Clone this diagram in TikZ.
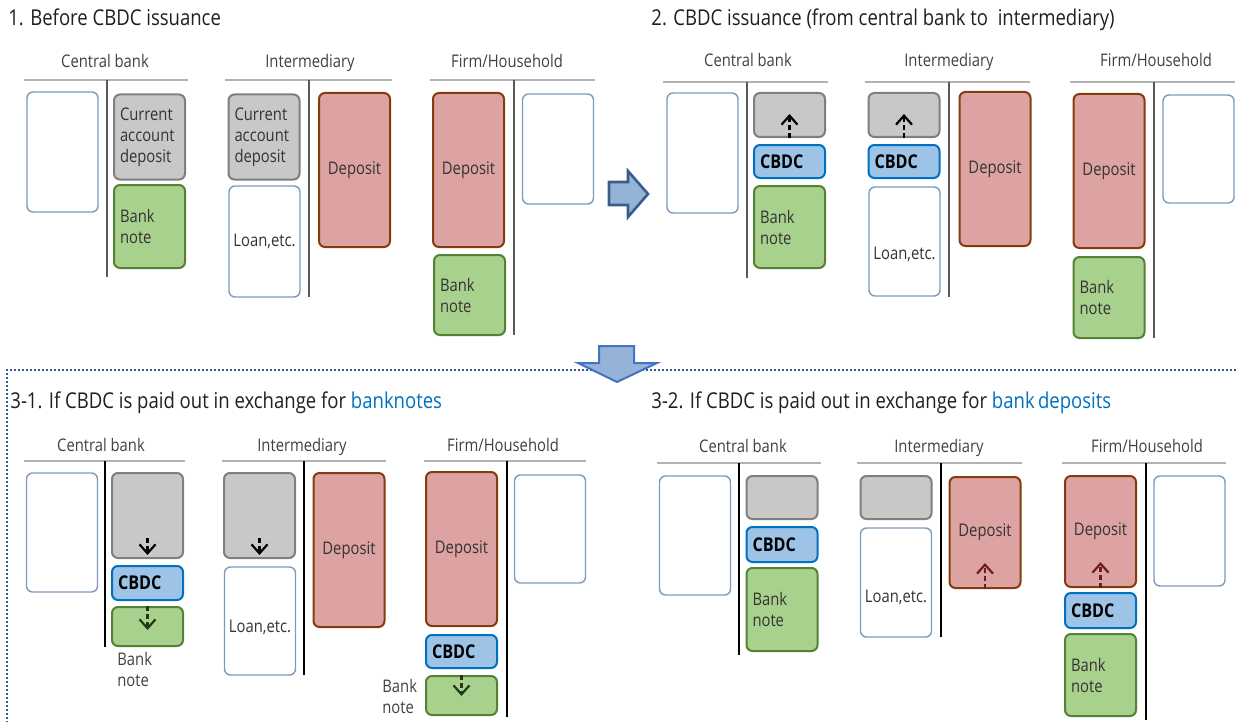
\documentclass[tikz,border=0pt]{standalone}
\usepackage{fontspec}
\setmainfont[FakeStretch=0.85]{Open Sans}
\usetikzlibrary{arrows.meta}
\definecolor{cagray}{RGB}{200,200,200}
\definecolor{cagrayline}{RGB}{127,127,127}
\definecolor{notegreen}{RGB}{169,209,142}
\definecolor{notegreenline}{RGB}{84,130,53}
\definecolor{deppink}{RGB}{221,162,162}
\definecolor{depbrown}{RGB}{132,60,12}
\definecolor{cbdcblue}{RGB}{157,195,230}
\definecolor{cbdcline}{RGB}{0,112,192}
\definecolor{emptyline}{RGB}{124,154,190}
\definecolor{arrowfill}{RGB}{149,179,215}
\definecolor{arrowline}{RGB}{56,93,138}
\definecolor{downline}{RGB}{68,114,196}
\definecolor{hiblue}{RGB}{0,112,192}
\definecolor{frameblue}{RGB}{47,85,151}
\definecolor{notearrow}{RGB}{38,56,24}
\definecolor{deparrow}{RGB}{110,30,30}
\newcommand{\bxfont}{\fontsize{8.7}{10.5}\selectfont}
\newcommand{\ttlfont}{\fontsize{10.9}{13}\selectfont}
\newcommand{\cbdcfont}{\fontsize{9.5}{11}\selectfont\bfseries}

\begin{document}
\begin{tikzpicture}[x=0.5pt, y=-0.5pt,
        box/.style={rectangle, rounded corners=3pt, line width=1pt, inner sep=0pt, minimum width=35.5pt, font=\bxfont, text=black!80},
        cabox/.style={box, fill=cagray, draw=cagrayline, align=left, text width=29.5pt, inner xsep=3pt},
        notebox/.style={box, fill=notegreen, draw=notegreenline, align=left, text width=29.5pt, inner xsep=3pt},
        depbox/.style={box, fill=deppink, draw=depbrown},
        cbdcbox/.style={box, fill=cbdcblue, draw=cbdcline, align=left, text width=29.5pt, inner xsep=3pt, font=\cbdcfont, text=black},
        emptybox/.style={box, fill=white, draw=emptyline, line width=0.7pt},
        loanbox/.style={emptybox},
        lbl/.style={font=\bxfont, text=black!75, inner sep=0pt, align=left},
        acct/.style={font=\bxfont, text=black!75, inner sep=0pt, anchor=base},
        title/.style={font=\ttlfont, text=black!88, inner sep=0pt, anchor=base west},
        tline/.style={draw=black!30, line width=0.8pt},
        vsplit/.style={draw=black!65, line width=0.8pt},
        flow/.style={dash pattern=on 2.5pt off 1.5pt, line width=1.1pt, -{Straight Barb[length=4.5pt, width=8pt]}}
    ]
    \useasboundingbox (0,0) rectangle (1236,722);

    % 1. before issuance
    \node[title] (t1) at (8,26) {1. Before CBDC issuance};
    \node[acct] (cb1H) at (105,68) {Central bank};
    \node[acct] (im1H) at (310,68) {Intermediary};
    \node[acct] (fh1H) at (507,68) {Firm/Household};
    \draw[tline] (24,80) -- (188,80);
    \draw[tline] (225,80) -- (392,80);
    \draw[tline] (430,80) -- (595,80);
    \draw[vsplit] (107,80) -- (107,277);
    \draw[vsplit] (309,80) -- (309,297);
    \draw[vsplit] (514,80) -- (514,335);
    \node[emptybox, minimum height=60pt] (cb1A) at (62.5,152) {};
    \node[cabox, minimum height=42.5pt] (cb1L) at (149.5,137) {Current\\account\\deposit};
    \node[notebox, minimum height=41.5pt] (cb1N) at (149.5,226.5) {Bank\\note};
    \node[cabox, minimum height=42.5pt] (im1A) at (264,137) {Current\\account\\deposit};
    \node[loanbox, minimum height=55.5pt] (im1L) at (264.5,241.5) {Loan,etc.};
    \node[depbox, minimum height=77pt] (im1D) at (354.5,170) {Deposit};
    \node[depbox, minimum height=77pt] (fh1D) at (468.5,170) {Deposit};
    \node[notebox, minimum height=40pt] (fh1N) at (469.5,295) {Bank\\note};
    \node[emptybox, minimum height=55pt] (fh1E) at (558,149) {};

    \filldraw[fill=arrowfill, draw=arrowline, line width=1.3pt] (609,182) -- (628,182) -- (628,171) -- (648,194) -- (628,217) -- (628,205) -- (609,205) -- cycle;

    % 2. issuance
    \node[title] (t2) at (651,26) {2. CBDC issuance (from central bank to\ \ intermediary)};
    \node[acct] (cb2H) at (748,67) {Central bank};
    \node[acct] (im2H) at (949,67) {Intermediary};
    \node[acct] (fh2H) at (1156,67) {Firm/Household};
    \draw[tline] (663,82) -- (828,82);
    \draw[tline] (865,82) -- (1030,82);
    \draw[tline] (1070,82) -- (1235,82);
    \draw[vsplit] (747,82) -- (747,278);
    \draw[vsplit] (949,82) -- (949,297);
    \draw[vsplit] (1154,82) -- (1154,338);
    \node[emptybox, minimum height=60pt] (cb2A) at (702.5,153) {};
    \node[cabox, minimum height=22pt] (cb2L) at (789.5,115) {};
    \node[cbdcbox, minimum height=16.5pt] (cb2C) at (789.5,161.5) {CBDC};
    \node[notebox, minimum height=41pt] (cb2N) at (789.5,227) {Bank\\note};
    \node[cabox, minimum height=22pt] (im2A) at (904,115) {};
    \node[cbdcbox, minimum height=16.5pt] (im2C) at (904,161.5) {CBDC};
    \node[loanbox, minimum height=54.5pt, text height=19.5pt] (im2L) at (904.5,241.5) {Loan,etc.};
    \node[depbox, minimum height=77pt] (im2D) at (995,169) {Deposit};
    \node[depbox, minimum height=77pt] (fh2D) at (1109,171) {Deposit};
    \node[notebox, minimum height=40.5pt] (fh2N) at (1109,297.5) {Bank\\note};
    \node[emptybox, minimum height=54pt] (fh2E) at (1198.5,149) {};
    \draw[flow] (cb2L.south) -- ++(0,-24);
    \draw[flow] (im2A.south) -- ++(0,-24);

    % dotted frame and down arrow
    \draw[frameblue, line width=0.7pt, dash pattern=on 1pt off 1pt] (1236,370) -- (7,370) -- (7,722);
    \filldraw[fill=arrowfill, draw=downline, line width=1pt] (599,346) -- (634,346) -- (634,363) -- (657,363) -- (617,382) -- (578,363) -- (599,363) -- cycle;

    % 3-1. paid out for banknotes
    \node[title] (t31) at (10,408) {3-1. If CBDC is paid out in exchange for {\color{hiblue}banknotes}};
    \node[acct] (cb3H) at (101,451) {Central bank};
    \node[acct] (im3H) at (302,451) {Intermediary};
    \node[acct] (fh3H) at (503,451) {Firm/Household};
    \draw[tline] (24,461) -- (185,461);
    \draw[tline] (222,461) -- (386,461);
    \draw[tline] (424,461) -- (586,461);
    \draw[vsplit, black] (105,461) -- (105,647);
    \draw[vsplit, black] (304,461) -- (304,675);
    \draw[vsplit, black] (507,461) -- (507,717);
    \node[emptybox, minimum height=59.5pt] (cb3A) at (62,532.5) {};
    \node[cabox, minimum height=42.5pt] (cb3L) at (147.5,515.5) {};
    \node[cbdcbox, minimum height=17pt] (cb3C) at (147.5,583) {CBDC};
    \node[notebox, minimum height=19.5pt] (cb3N) at (147.5,626.5) {};
    \node[lbl, anchor=north west] (cb3Nt) at (117,652) {Bank\\note};
    \node[cabox, minimum height=42.5pt] (im3A) at (259.5,515.5) {};
    \node[loanbox, minimum height=54pt, text height=13pt] (im3L) at (260,621) {Loan,etc.};
    \node[depbox, minimum height=77pt] (im3D) at (349,550) {Deposit};
    \node[depbox, minimum height=77pt] (fh3D) at (461.5,549) {Deposit};
    \node[cbdcbox, minimum height=16.5pt] (fh3C) at (461.5,651.5) {CBDC};
    \node[notebox, minimum height=19.5pt] (fh3N) at (461.5,695.5) {};
    \node[lbl, anchor=north west] (fh3Nt) at (382,679) {Bank\\note};
    \node[emptybox, minimum height=54pt] (fh3E) at (550,529) {};
    \draw[flow] ([yshift=10.5pt]cb3L.south) -- ++(0,17);
    \draw[flow] ([yshift=10.5pt]im3A.south) -- ++(0,17);
    \draw[flow, notearrow] (cb3N.north) -- ++(0,24);
    \draw[flow, notearrow] (fh3N.north) -- ++(0,21);

    % 3-2. paid out for bank deposits
    \node[title] (t32) at (651,408) {3-2. If CBDC is paid out in exchange for {\color{hiblue}bank\hspace{0.15em}deposits}};
    \node[acct] (cb4H) at (743,452) {Central bank};
    \node[acct] (im4H) at (939,452) {Intermediary};
    \node[acct] (fh4H) at (1147,452) {Firm/Household};
    \draw[tline] (657,463) -- (821,463);
    \draw[tline] (857,463) -- (1022,463);
    \draw[tline] (1062,463) -- (1226,463);
    \draw[vsplit, black] (739,463) -- (739,655);
    \draw[vsplit, black] (941,463) -- (941,637);
    \draw[vsplit, black] (1146,463) -- (1146,720);
    \node[emptybox, minimum height=59.5pt] (cb4A) at (695,535.5) {};
    \node[cabox, minimum height=21.5pt] (cb4L) at (782,497.5) {};
    \node[cbdcbox, minimum height=17.5pt] (cb4C) at (782,544.5) {CBDC};
    \node[notebox, minimum height=41.5pt] (cb4N) at (782,609.5) {Bank\\note};
    \node[cabox, minimum height=21.5pt] (im4A) at (896,497.5) {};
    \node[loanbox, minimum height=54.5pt, text height=21.5pt] (im4L) at (896,582.5) {Loan,etc.};
    \node[depbox, minimum height=55.5pt] (im4D) at (985,532.5) {Deposit};
    \node[depbox, minimum height=55.5pt] (fh4D) at (1100.5,531.5) {Deposit};
    \node[cbdcbox, minimum height=17.5pt] (fh4C) at (1100.5,610.5) {CBDC};
    \node[notebox, minimum height=41pt] (fh4N) at (1100.5,675) {Bank\\note};
    \node[emptybox, minimum height=55pt] (fh4E) at (1189.5,531) {};
    \draw[flow, deparrow] (im4D.south) -- ++(0,-26);
    \draw[flow, deparrow] (fh4D.south) -- ++(0,-26);
\end{tikzpicture}
\end{document}
